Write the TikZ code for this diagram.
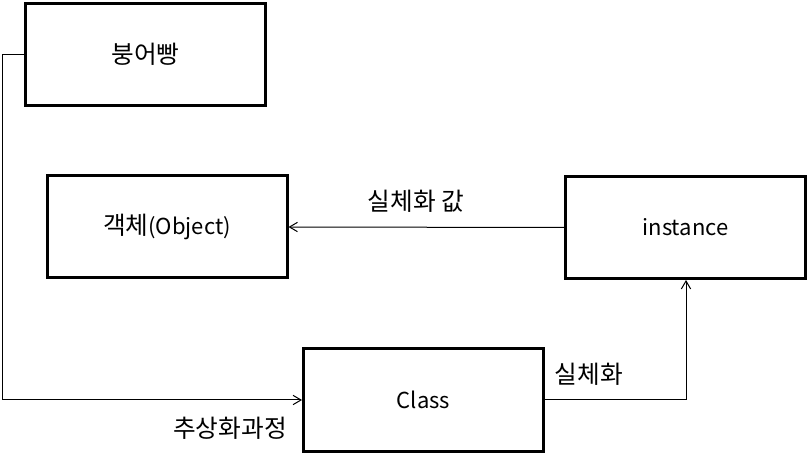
\documentclass[tikz,border=0pt]{standalone}
\usepackage{fontspec}
\setmainfont{Noto Sans CJK KR}
\usetikzlibrary{arrows.meta}
\newcommand{\hg}[1]{{\fontsize{18.5}{21}\selectfont #1}}
\begin{document}
\begin{tikzpicture}[x=0.75pt,y=-0.75pt,
  box/.style={draw,line width=2.25pt,minimum width=240*0.75pt,minimum height=102*0.75pt,inner sep=0pt,font=\fontsize{16.5}{19}\selectfont},
  conn/.style={line width=0.75pt,-{Straight Barb[length=6pt,width=7pt,line width=0.75pt]}},
  lbl/.style={font=\fontsize{18.5}{21}\selectfont,inner sep=0pt}]
\useasboundingbox (0,0) rectangle (808,456);
\node[box] (bung) at (145.5,54.5) {\hg{붕어빵}};
\node[box] (obj) at (167,227) {\hg{객체}(Object)};
\node[box] (inst) at (685.5,227.5) {instance};
\node[box] (cls) at (423.5,400) {Class};
\coordinate (c1) at (2,55);
\coordinate (c2) at (2,400);
\coordinate (c3) at (686,400);
\draw[conn] (bung.west |- c1) -- (c1) -- (c2) -- (cls.west);
\draw[conn] (inst.west) -- (obj.east);
\draw[conn] (cls.east |- c3) -- (c3) -- (inst.south -| c3);
\node[lbl] (l1) at (416,201) {실체화 값};
\node[lbl] (l2) at (589,374) {실체화};
\node[lbl] (l3) at (230,428) {추상화과정};
\end{tikzpicture}
\end{document}
